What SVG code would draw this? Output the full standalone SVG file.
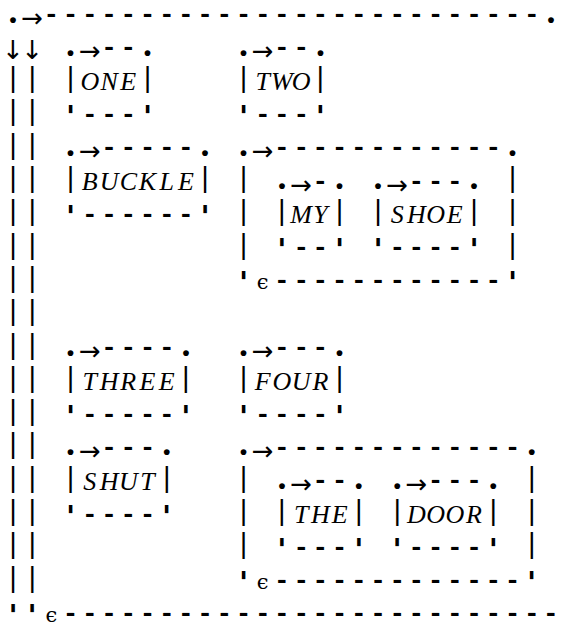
<svg xmlns="http://www.w3.org/2000/svg" width="565" height="624" viewBox="0 0 565 624">
  <style>
    text { fill: #000; text-anchor: middle; }
    .dot { font: bold 36px "Liberation Serif", serif; }
    .arr { font: 26px "DejaVu Sans", sans-serif; }
    .dn  { font: 26px "DejaVu Sans", sans-serif; }
    .dash { font: bold 26px "Liberation Mono", monospace; }
    .bar { font: 27px "DejaVu Sans", sans-serif; }
    .q   { font: bold 30px "DejaVu Serif", serif; }
    .lbl { font: italic 26px "Liberation Serif", serif; }
    .eps { font: 21px "DejaVu Serif", serif; }
  </style>
  <rect width="565" height="624" fill="#fff"/>

  <!-- outer loop: top rail, two down rails, bottom rail -->
  <g id="connectors">
    <text class="dot" x="13 550.9" y="22.5">..</text>
    <text class="arr" x="32.2" y="27">→</text>
    <text class="dash" x="51.4 70.6 89.8 109.1 128.3 147.5 166.7 185.9 205.1 224.3 243.5 262.7 281.9 301.2 320.4 339.6 358.8 378.0 397.2 416.4 435.6 454.8 474.0 493.3 512.5 531.7" y="22">--------------------------</text>
    <text class="dn" x="13 32.2" y="59">↓↓</text>
    <text class="bar" x="13 32.2 13 32.2 13 32.2 13 32.2 13 32.2 13 32.2 13 32.2 13 32.2 13 32.2 13 32.2 13 32.2 13 32.2 13 32.2 13 32.2 13 32.2 13 32.2" y="86.1 86.1 119.4 119.4 152.7 152.7 186 186 219.3 219.3 252.6 252.6 285.9 285.9 319.2 319.2 352.5 352.5 385.8 385.8 419.1 419.1 452.4 452.4 485.7 485.7 519 519 552.3 552.3 585.6 585.6">||||||||||||||||||||||||||||||||</text>
    <text class="q" x="13 32.2" y="626">''</text>
    <text class="eps" x="51.4" y="622.4">ϵ</text>
    <text class="dash" x="70.6 89.8 109.1 128.3 147.5 166.7 185.9 205.1 224.3 243.5 262.7 281.9 301.2 320.4 339.6 358.8 378.0 397.2 416.4 435.6 454.8 474.0 493.3 512.5 531.7 550.9" y="621.4">--------------------------</text>
  </g>

  <g id="one">
    <text class="dot" x="70.6 147.5" y="55.8">..</text>
    <text class="arr" x="89.8" y="60.3">→</text>
    <text class="dash" x="109.1 128.3" y="55.3">--</text>
    <text class="bar" x="70.6 147.5" y="86.1">||</text>
    <text class="lbl" x="89.8 109.1 128.3" y="90">ONE</text>
    <text class="q" x="70.6 147.5" y="126.9">''</text>
    <text class="dash" x="89.8 109.1 128.3" y="121.9">---</text>
  </g>

  <g id="two">
    <text class="dot" x="243.5 320.4" y="55.8">..</text>
    <text class="arr" x="262.7" y="60.3">→</text>
    <text class="dash" x="281.9 301.2" y="55.3">--</text>
    <text class="bar" x="243.5 320.4" y="86.1">||</text>
    <text class="lbl" x="262.7 281.9 301.2" y="90">TWO</text>
    <text class="q" x="243.5 320.4" y="126.9">''</text>
    <text class="dash" x="262.7 281.9 301.2" y="121.9">---</text>
  </g>

  <g id="buckle">
    <text class="dot" x="70.6 205.1" y="155.7">..</text>
    <text class="arr" x="89.8" y="160.2">→</text>
    <text class="dash" x="109.1 128.3 147.5 166.7 185.9" y="155.2">-----</text>
    <text class="bar" x="70.6 205.1" y="186">||</text>
    <text class="lbl" x="89.8 109.1 128.3 147.5 166.7 185.9" y="189.9">BUCKLE</text>
    <text class="q" x="70.6 205.1" y="226.8">''</text>
    <text class="dash" x="89.8 109.1 128.3 147.5 166.7 185.9" y="221.8">------</text>
  </g>

  <g id="my-shoe">
    <text class="dot" x="243.5 512.5" y="155.7">..</text>
    <text class="arr" x="262.7" y="160.2">→</text>
    <text class="dash" x="281.9 301.2 320.4 339.6 358.8 378.0 397.2 416.4 435.6 454.8 474.0 493.3" y="155.2">------------</text>
    <text class="bar" x="243.5 512.5 243.5 512.5 243.5 512.5" y="186 186 219.3 219.3 252.6 252.6">||||||</text>
    <text class="q" x="243.5 512.5" y="293.4">''</text>
    <text class="eps" x="262.7" y="289.4">ϵ</text>
    <text class="dash" x="281.9 301.2 320.4 339.6 358.8 378.0 397.2 416.4 435.6 454.8 474.0 493.3" y="288.4">------------</text>
  </g>

  <g id="my">
    <text class="dot" x="281.9 339.6" y="189">..</text>
    <text class="arr" x="301.2" y="193.5">→</text>
    <text class="dash" x="320.4" y="188.5">-</text>
    <text class="bar" x="281.9 339.6" y="219.3">||</text>
    <text class="lbl" x="301.2 320.4" y="223.2">MY</text>
    <text class="q" x="281.9 339.6" y="260.1">''</text>
    <text class="dash" x="301.2 320.4" y="255.1">--</text>
  </g>

  <g id="shoe">
    <text class="dot" x="378.0 474.0" y="189">..</text>
    <text class="arr" x="397.2" y="193.5">→</text>
    <text class="dash" x="416.4 435.6 454.8" y="188.5">---</text>
    <text class="bar" x="378.0 474.0" y="219.3">||</text>
    <text class="lbl" x="397.2 416.4 435.6 454.8" y="223.2">SHOE</text>
    <text class="q" x="378.0 474.0" y="260.1">''</text>
    <text class="dash" x="397.2 416.4 435.6 454.8" y="255.1">----</text>
  </g>

  <g id="three">
    <text class="dot" x="70.6 185.9" y="355.5">..</text>
    <text class="arr" x="89.8" y="360">→</text>
    <text class="dash" x="109.1 128.3 147.5 166.7" y="355">----</text>
    <text class="bar" x="70.6 185.9" y="385.8">||</text>
    <text class="lbl" x="89.8 109.1 128.3 147.5 166.7" y="389.7">THREE</text>
    <text class="q" x="70.6 185.9" y="426.6">''</text>
    <text class="dash" x="89.8 109.1 128.3 147.5 166.7" y="421.6">-----</text>
  </g>

  <g id="four">
    <text class="dot" x="243.5 339.6" y="355.5">..</text>
    <text class="arr" x="262.7" y="360">→</text>
    <text class="dash" x="281.9 301.2 320.4" y="355">---</text>
    <text class="bar" x="243.5 339.6" y="385.8">||</text>
    <text class="lbl" x="262.7 281.9 301.2 320.4" y="389.7">FOUR</text>
    <text class="q" x="243.5 339.6" y="426.6">''</text>
    <text class="dash" x="262.7 281.9 301.2 320.4" y="421.6">----</text>
  </g>

  <g id="shut">
    <text class="dot" x="70.6 166.7" y="455.4">..</text>
    <text class="arr" x="89.8" y="459.9">→</text>
    <text class="dash" x="109.1 128.3 147.5" y="454.9">---</text>
    <text class="bar" x="70.6 166.7" y="485.7">||</text>
    <text class="lbl" x="89.8 109.1 128.3 147.5" y="489.6">SHUT</text>
    <text class="q" x="70.6 166.7" y="526.5">''</text>
    <text class="dash" x="89.8 109.1 128.3 147.5" y="521.5">----</text>
  </g>

  <g id="the-door">
    <text class="dot" x="243.5 531.7" y="455.4">..</text>
    <text class="arr" x="262.7" y="459.9">→</text>
    <text class="dash" x="281.9 301.2 320.4 339.6 358.8 378.0 397.2 416.4 435.6 454.8 474.0 493.3 512.5" y="454.9">-------------</text>
    <text class="bar" x="243.5 531.7 243.5 531.7 243.5 531.7" y="485.7 485.7 519 519 552.3 552.3">||||||</text>
    <text class="q" x="243.5 531.7" y="593.1">''</text>
    <text class="eps" x="262.7" y="589.1">ϵ</text>
    <text class="dash" x="281.9 301.2 320.4 339.6 358.8 378.0 397.2 416.4 435.6 454.8 474.0 493.3 512.5" y="588.1">-------------</text>
  </g>

  <g id="the">
    <text class="dot" x="281.9 358.8" y="488.7">..</text>
    <text class="arr" x="301.2" y="493.2">→</text>
    <text class="dash" x="320.4 339.6" y="488.2">--</text>
    <text class="bar" x="281.9 358.8" y="519">||</text>
    <text class="lbl" x="301.2 320.4 339.6" y="522.9">THE</text>
    <text class="q" x="281.9 358.8" y="559.8">''</text>
    <text class="dash" x="301.2 320.4 339.6" y="554.8">---</text>
  </g>

  <g id="door">
    <text class="dot" x="397.2 493.3" y="488.7">..</text>
    <text class="arr" x="416.4" y="493.2">→</text>
    <text class="dash" x="435.6 454.8 474.0" y="488.2">---</text>
    <text class="bar" x="397.2 493.3" y="519">||</text>
    <text class="lbl" x="416.4 435.6 454.8 474.0" y="522.9">DOOR</text>
    <text class="q" x="397.2 493.3" y="559.8">''</text>
    <text class="dash" x="416.4 435.6 454.8 474.0" y="554.8">----</text>
  </g>
</svg>
